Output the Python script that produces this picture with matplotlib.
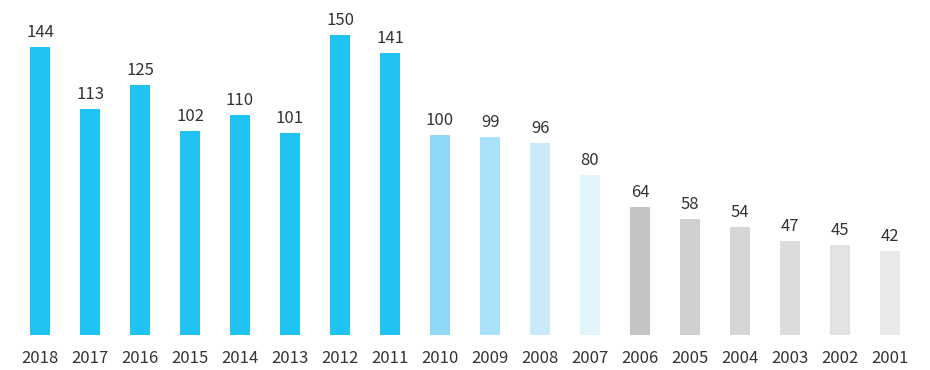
import matplotlib
matplotlib.use("Agg")
import matplotlib.pyplot as plt

years = ["2018", "2017", "2016", "2015", "2014", "2013", "2012", "2011", "2010",
         "2009", "2008", "2007", "2006", "2005", "2004", "2003", "2002", "2001"]
values = [144, 113, 125, 102, 110, 101, 150, 141, 100, 99, 96, 80, 64, 58, 54, 47, 45, 42]
colors = ["#20c3f3"] * 8 + ["#8ed9f6", "#a9e1f8", "#c8eaf9", "#e1f3fb",
                            "#c4c4c4", "#cfd0d0", "#d6d6d5", "#dcdcda", "#e2e3e3", "#e9e9e9"]

plt.rcParams['font.family'] = ['Noto Sans CJK SC', 'DejaVu Sans']

fig = plt.figure(figsize=(9.3, 3.7), dpi=100)
ax = fig.add_axes([0, 35 / 370, 1, 335 / 370])
x = list(range(len(years)))
ax.bar(x, values, width=0.4, color=colors)
for xi, v in zip(x, values):
    ax.annotate(str(v), (xi, v), xytext=(0, 4), textcoords="offset points",
                ha="center", va="bottom", fontsize=12, color="#333333")
ax.set_xlim(-0.8, 17.8)
ax.set_ylim(0, 167.5)
ax.set_xticks(x)
ax.set_xticklabels(years)
ax.tick_params(axis="x", length=0, pad=11, labelsize=12, labelcolor="#333333")
ax.set_yticks([])
for s in ax.spines.values():
    s.set_visible(False)
fig.savefig("out.png", dpi=100)
